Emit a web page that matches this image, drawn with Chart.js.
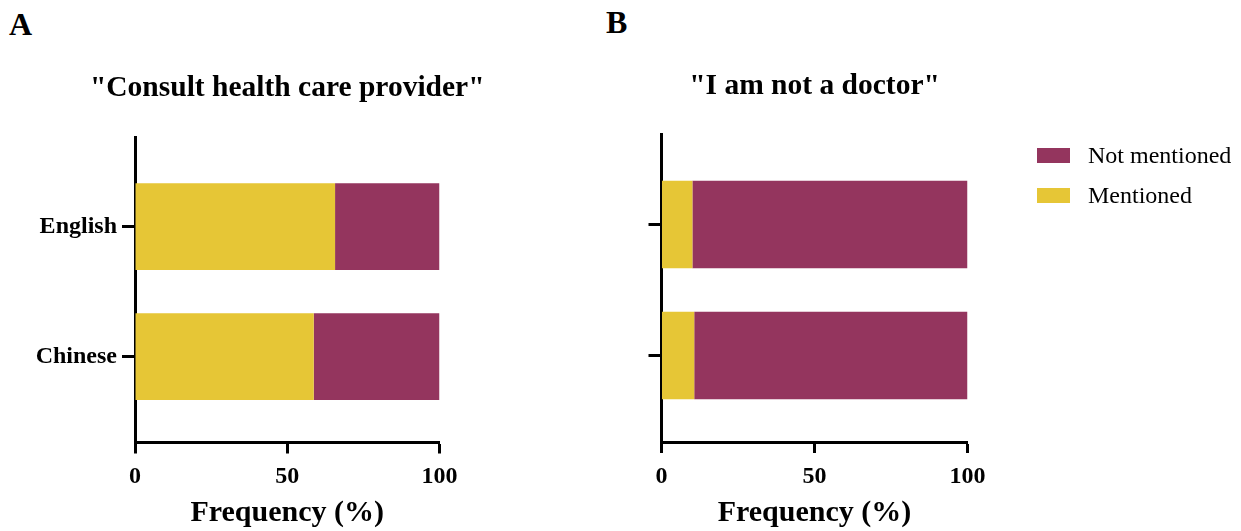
<!DOCTYPE html>
<html>
<head>
<meta charset="utf-8">
<script src="https://cdn.jsdelivr.net/npm/chart.js@4"></script>
<style>
  html, body { margin: 0; padding: 0; background: #ffffff; }
  body { width: 1241px; height: 531px; position: relative; overflow: hidden; font-family: "Liberation Serif", "Times New Roman", serif; }
  canvas { position: absolute; top: 0; }
  #chartA { left: 0; }
  #chartB { left: 574px; }
  .panel-letter { position: absolute; font-weight: bold; font-size: 32px; line-height: 32px; color: #000; }
  #legend { position: absolute; left: 1037px; top: 140px; }
  .legend-item { position: relative; height: 40px; }
  .legend-box { position: absolute; left: 0; top: 8px; width: 33px; height: 15px; }
  .legend-text { position: absolute; left: 51px; top: 0; font-size: 24px; line-height: 30px; color: #000; white-space: nowrap; }
</style>
</head>
<body>
<div class="panel-letter" style="left:9px; top:8px;">A</div>
<div class="panel-letter" style="left:606px; top:6px;">B</div>
<canvas id="chartA" width="574" height="531"></canvas>
<canvas id="chartB" width="482" height="531"></canvas>
<div id="legend"></div>
<script>
// Response languages, top to bottom
const categories = ['English', 'Chinese'];
const categoryPositions = [1, 2];

// Panel A: "Consult health care provider" (% of responses)
const mentionedA = [65.7, 58.7];
const notMentionedA = [34.3, 41.3];

// Panel B: "I am not a doctor" (% of responses)
const mentionedB = [10.1, 10.7];
const notMentionedB = [89.9, 89.3];

const xTickValues = [0, 50, 100];
const seriesLabels = ['Mentioned', 'Not mentioned'];
const seriesColors = ['#E6C636', '#94355E'];

const serif = '"Liberation Serif", "Times New Roman", serif';

function points(values) {
  return values.map((v, i) => ({ x: v, y: categoryPositions[i] }));
}

// Panel heading, centred over the plotting area
const panelTitle = {
  id: 'panelTitle',
  afterDraw(chart, args, opts) {
    const { ctx, chartArea } = chart;
    ctx.save();
    ctx.font = 'bold 29.5px ' + serif;
    ctx.fillStyle = '#000';
    ctx.textAlign = 'center';
    ctx.textBaseline = 'middle';
    ctx.fillText(opts.text, (chartArea.left + chartArea.right) / 2, opts.y);
    ctx.restore();
  }
};

function makeConfig(opts) {
  return {
    type: 'bar',
    data: {
      datasets: [
        { label: seriesLabels[0], data: points(opts.mentioned), backgroundColor: seriesColors[0], borderWidth: 0 },
        { label: seriesLabels[1], data: points(opts.notMentioned), backgroundColor: seriesColors[1], borderWidth: 0 }
      ]
    },
    plugins: [panelTitle],
    options: {
      indexAxis: 'y',
      responsive: false,
      animation: false,
      devicePixelRatio: 1,
      barPercentage: 0.667,
      categoryPercentage: 1,
      layout: { padding: { left: 0, right: opts.rightPad, top: opts.topPad, bottom: 0 } },
      plugins: {
        legend: { display: false },
        tooltip: { enabled: false },
        title: { display: false },
        panelTitle: { text: opts.title, y: opts.titleY }
      },
      scales: {
        x: {
          type: 'linear',
          stacked: true,
          min: 0,
          max: 100,
          afterFit: (scale) => { scale.height = opts.xHeight; },
          afterBuildTicks: (scale) => { scale.ticks = xTickValues.map(v => ({ value: v })); },
          border: { display: true, color: '#000', width: 3 },
          grid: { display: true, drawOnChartArea: false, drawTicks: true, tickLength: 11, tickWidth: 3, tickColor: '#000' },
          ticks: { color: '#000', padding: 9, font: { family: serif, size: 24, weight: 'bold' } },
          title: {
            display: true,
            text: 'Frequency (%)',
            color: '#000',
            font: { family: serif, size: 30, weight: 'bold', lineHeight: 1.2 },
            padding: { top: 0, bottom: 0 }
          }
        },
        y: {
          type: 'linear',
          stacked: true,
          reverse: true,
          offset: false,
          min: 0.31,
          max: 2.66,
          afterFit: (scale) => { scale.width = opts.yWidth; },
          afterBuildTicks: (scale) => { scale.ticks = categoryPositions.map(v => ({ value: v })); },
          border: { display: true, color: '#000', width: 3 },
          grid: { display: true, offset: false, drawOnChartArea: false, drawTicks: true, tickLength: 13, tickWidth: 3, tickColor: '#000' },
          ticks: {
            color: '#000',
            padding: 5,
            font: { family: serif, size: 24, weight: 'bold' },
            callback: (value) => opts.showLabels ? categories[categoryPositions.indexOf(value)] : ''
          }
        }
      }
    }
  };
}

new Chart(document.getElementById('chartA'), makeConfig({
  title: '"Consult health care provider"',
  mentioned: mentionedA,
  notMentioned: notMentionedA,
  showLabels: true,
  yWidth: 135,
  xHeight: 88.5,
  rightPad: 134.5,
  topPad: 137,
  titleY: 88
}));

new Chart(document.getElementById('chartB'), makeConfig({
  title: '"I am not a doctor"',
  mentioned: mentionedB,
  notMentioned: notMentionedB,
  showLabels: false,
  yWidth: 87.5,
  xHeight: 89,
  rightPad: 88.5,
  topPad: 134,
  titleY: 86
}));

// Legend, listed with the outer segment first
const legend = document.getElementById('legend');
[1, 0].forEach((i) => {
  const item = document.createElement('div');
  item.className = 'legend-item';
  const box = document.createElement('div');
  box.className = 'legend-box';
  box.style.background = seriesColors[i];
  const text = document.createElement('div');
  text.className = 'legend-text';
  text.textContent = seriesLabels[i];
  item.appendChild(box);
  item.appendChild(text);
  legend.appendChild(item);
});
</script>
</body>
</html>
